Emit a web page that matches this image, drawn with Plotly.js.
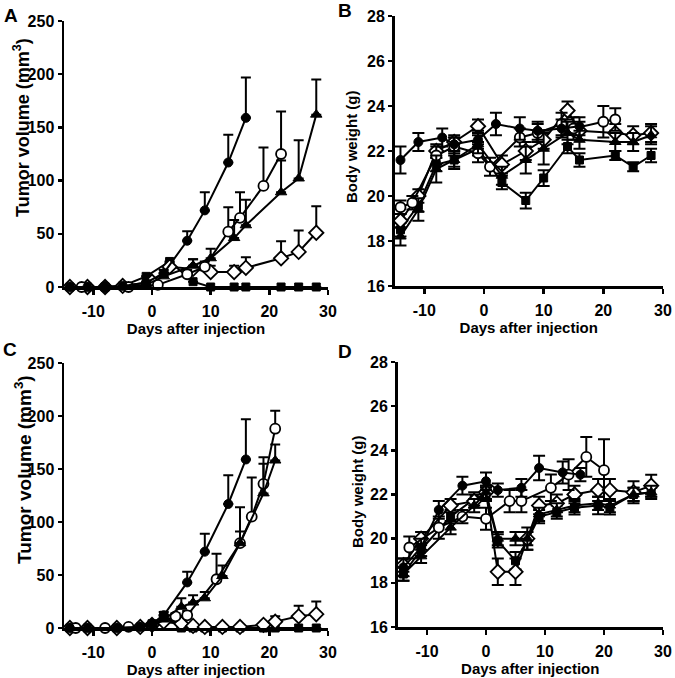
<!DOCTYPE html>
<html>
<head>
<meta charset="utf-8">
<script src="https://cdn.plot.ly/plotly-3.0.1.min.js"></script>
<style>html,body{margin:0;padding:0;background:#fff;}#chart{width:675px;height:678px;}</style>
</head>
<body>
<div id="chart"></div>
<script>
// ---------- Tick labels ----------
const dayTickVals = [-10, 0, 10, 20, 30];
const dayTickText = ["-10", "0", "10", "20", "30"];
const volTickVals = [0, 50, 100, 150, 200, 250];
const wtTickVals = [16, 18, 20, 22, 24, 26, 28];

// ---------- Panel A: tumor volume ----------
const fcA_x = [-14,-11,-8,-5,-1,2,6,9,13,16];
const fcA_y = [0,0,0,1,4,13,43.5,72,117,159];
const fcA_e = [0,0,0,0,1,3,9,17,26,38];
const ocA_x = [-12,-8,-4,1,6,9,13,15,19,22];
const ocA_y = [0,0,0,2,12,19,52,65,95,125];
const ocA_e = [0,0,0,1,4,5,23,24,36,40];
const ftA_x = [-14,-11,-8,-5,-1,2,7,10,14,16,22,25,28];
const ftA_y = [0,0,0,0,2,10,20,27,46,58,89,102,162];
const ftA_e = [0,0,0,0,1,3,6,9,17,24,30,36,33];
const odA_x = [-14,-11,-8,-5,0,3,7,10,14,16,22,25,28];
const odA_y = [0,0,0,1,5,19,17,14,14,18,27,33,51];
const odA_e = [0,0,0,0,1,4,9,6,6,10,16,20,25];
const fsA_x = [-14,-11,-8,-5,-1,3,7,10,14,16,22,25,28];
const fsA_y = [0,0,0,1,10,24,5,0,0,0,0,0,0];
const fsA_e = [0,0,0,0,0,0,0,0,0,0,0,0,0];

// ---------- Panel B: body weight ----------
const fcB_x = [-14,-11,-7,-5,-1,2,6,9,13,16];
const fcB_y = [21.6,22.4,22.6,22.3,22.5,23.2,23.0,22.9,23.0,23.1];
const fcB_e = [0.6,0.4,0.4,0.3,0.4,0.5,0.5,0.4,0.4,0.4];
const ocB_x = [-14,-12,-8,-5,-1,1,6,9,13,15,20,22];
const ocB_y = [19.5,19.7,21.8,22.2,21.9,21.3,22.6,22.8,23.2,23.0,23.3,23.4];
const ocB_e = [0.3,0.3,0.4,0.4,0.4,0.4,0.4,0.4,0.5,0.5,0.7,0.5];
const ftB_x = [-14,-11,-8,-5,-1,3,7,10,14,16,22,25,28];
const ftB_y = [18.2,19.4,21.2,21.6,22.3,20.9,21.6,22.1,22.8,22.5,22.4,22.4,22.7];
const ftB_e = [0.4,0.5,0.6,0.4,0.4,0.4,0.6,0.7,0.5,0.4,0.4,0.4,0.4];
const odB_x = [-14,-11,-8,-5,-1,3,7,10,14,16,22,25,28];
const odB_y = [18.9,20.0,22.0,22.4,23.1,21.4,22.0,22.5,23.8,22.9,22.8,22.7,22.8];
const odB_e = [0.3,0.3,0.3,0.3,0.3,0.4,0.4,0.4,0.4,0.4,0.4,0.4,0.4];
const fsB_x = [-14,-11,-8,-5,-1,3,7,10,14,16,22,25,28];
const fsB_y = [18.5,19.6,21.4,21.6,22.1,20.6,19.8,20.8,22.2,21.6,21.8,21.3,21.8];
const fsB_e = [0.3,0.3,0.3,0.3,0.3,0.3,0.35,0.35,0.3,0.3,0.2,0.2,0.3];

// ---------- Panel C: tumor volume ----------
const fcC_x = [-14,-11,-6,-2,0,2,6,9,13,16];
const fcC_y = [0,0,0,1,4,12,43,72,117,159];
const fcC_e = [0,0,0,0,1,3,10,17,27,38];
const ocC_x = [-13,-8,-4,0,4,6,11,15,17,19,21];
const ocC_y = [0,0,1,3,11,12,46,80,105,136,188];
const ocC_e = [0,0,0,1,3,4,24,34,37,25,17];
const ftC_x = [-14,-11,-6,-2,0,2,5,7,9,12,15,19,21];
const ftC_y = [0,0,0,1,3,8,20,24,28,49,80,127,158];
const ftC_e = [0,0,0,0,1,2,8,7,6,10,11,28,15];
const odC_x = [-14,-11,-6,-2,0,2,5,7,9,12,15,19,21,25,28];
const odC_y = [0,0,0,1,3,6,4,2,1,1,1,3,6,11,13];
const odC_e = [0,0,0,0,1,2,1,1,0,0,0,1,5,10,12];
const fsC_x = [-14,-11,-6,-2,0,2,5,7,9,12,15,19,21,25,28];
const fsC_y = [0,0,0,1,4,12,0,0,0,0,0,0,0,0,0];
const fsC_e = [0,0,0,0,0,0,0,0,0,0,0,0,0,0,0];

// ---------- Panel D: body weight ----------
const fcD_x = [-14,-11,-8,-4,0,2,6,9,13,16];
const fcD_y = [18.7,19.6,21.3,22.4,22.6,22.2,22.3,23.2,23.0,22.9];
const fcD_e = [0.4,0.4,0.4,0.4,0.4,0.3,0.4,0.55,0.5,0.3];
const ocD_x = [-13,-8,-4,0,4,6,11,14,17,20];
const ocD_y = [19.6,20.5,21.0,20.9,21.7,21.7,22.3,22.9,23.7,23.1];
const ocD_e = [0.5,0.5,0.3,0.5,0.5,0.5,0.6,0.7,0.9,1.4];
const ftD_x = [-14,-11,-6,-2,0,2,5,7,9,12,15,19,21,25,28];
const ftD_y = [18.4,19.2,20.5,21.5,22.1,20.0,20.0,20.0,21.1,21.3,21.5,21.6,21.5,22.0,22.1];
const ftD_e = [0.3,0.3,0.3,0.3,0.3,0.3,0.3,0.3,0.3,0.3,0.3,0.3,0.3,0.3,0.3];
const odD_x = [-14,-11,-6,-2,0,2,5,7,9,12,15,19,21,25,28];
const odD_y = [18.8,20.0,21.5,21.7,22.1,18.5,18.5,20.0,21.5,21.6,22.0,22.2,22.2,22.1,22.4];
const odD_e = [0.3,0.3,0.3,0.3,0.3,0.6,0.6,0.5,0.4,0.4,0.4,0.5,0.5,0.5,0.5];
const fsD_x = [-14,-11,-6,-2,0,2,5,7,9,12,15,19,21,25,28];
const fsD_y = [18.4,19.5,21.0,21.8,22.0,19.9,19.0,19.9,21.0,21.2,21.4,21.5,21.4,22.0,22.1];
const fsD_e = [0.3,0.3,0.3,0.3,0.3,0.3,0.4,0.4,0.3,0.3,0.3,0.4,0.3,0.3,0.2];

// ---------- Styling ----------
const FONT = "Liberation Sans, Arial, Helvetica, sans-serif";
const markers = {
  fs: {symbol: "square", size: 8, color: "#000", line: {color: "#000", width: 1}},
  ft: {symbol: "triangle-up", size: 10, color: "#000", line: {color: "#000", width: 1}},
  fc: {symbol: "circle", size: 9, color: "#000", line: {color: "#000", width: 1}},
  od: {symbol: "diamond", size: 11, color: "#fff", line: {color: "#000", width: 1.8}},
  oc: {symbol: "circle", size: 10, color: "#fff", line: {color: "#000", width: 1.8}}
};

function tr(x, y, e, kind, ax, upOnly) {
  const err = upOnly
    ? {type: "data", symmetric: false, array: e, arrayminus: e.map(() => 0), color: "#000", thickness: 2, width: 5}
    : {type: "data", symmetric: true, array: e, color: "#000", thickness: 2, width: 6};
  return {
    type: "scatter", mode: "lines+markers", x: x, y: y,
    xaxis: "x" + ax, yaxis: "y" + ax,
    line: {color: "#000", width: 2},
    marker: markers[kind],
    error_y: err, cliponaxis: false, hoverinfo: "x+y"
  };
}

// drawing order: squares, open diamonds, open circles, triangles, filled circles (last on top)
const data = [
  tr(fsA_x, fsA_y, fsA_e, "fs", "", true),
  tr(odA_x, odA_y, odA_e, "od", "", true),
  tr(ocA_x, ocA_y, ocA_e, "oc", "", true),
  tr(ftA_x, ftA_y, ftA_e, "ft", "", true),
  tr(fcA_x, fcA_y, fcA_e, "fc", "", true),

  tr(fsB_x, fsB_y, fsB_e, "fs", "2", false),
  tr(odB_x, odB_y, odB_e, "od", "2", false),
  tr(ocB_x, ocB_y, ocB_e, "oc", "2", false),
  tr(ftB_x, ftB_y, ftB_e, "ft", "2", false),
  tr(fcB_x, fcB_y, fcB_e, "fc", "2", false),

  tr(fsC_x, fsC_y, fsC_e, "fs", "3", true),
  tr(odC_x, odC_y, odC_e, "od", "3", true),
  tr(ocC_x, ocC_y, ocC_e, "oc", "3", true),
  tr(ftC_x, ftC_y, ftC_e, "ft", "3", true),
  tr(fcC_x, fcC_y, fcC_e, "fc", "3", true),

  tr(fsD_x, fsD_y, fsD_e, "fs", "4", false),
  tr(odD_x, odD_y, odD_e, "od", "4", false),
  tr(ocD_x, ocD_y, ocD_e, "oc", "4", false),
  tr(ftD_x, ftD_y, ftD_e, "ft", "4", false),
  tr(fcD_x, fcD_y, fcD_e, "fc", "4", false)
];

const W = 675, H = 678;
const tickFont = {family: FONT, size: 16, color: "#000", weight: "bold"};
const xTitle = "Days after injection";

function xax(d0, d1, anchor) {
  return {
    domain: [d0 / W, d1 / W], anchor: anchor, range: [-15, 30],
    tickmode: "array", tickvals: dayTickVals, ticktext: dayTickText,
    showline: true, linecolor: "#000", linewidth: 2.5,
    ticks: "outside", ticklen: 5, tickwidth: 2.5, tickcolor: "#000",
    ticklabelstandoff: 3,
    tickfont: tickFont, showgrid: false, zeroline: false, fixedrange: true,
    title: {text: xTitle, standoff: 1, font: {family: FONT, size: 15, color: "#000", weight: "bold"}}
  };
}
function yax(pBottom, pTop, range, vals, anchor) {
  return {
    domain: [1 - pBottom / H, 1 - pTop / H], anchor: anchor, range: range,
    tickmode: "array", tickvals: vals,
    showline: true, linecolor: "#000", linewidth: 2.5,
    ticks: "outside", ticklen: 4, tickwidth: 2.5, tickcolor: "#000",
    tickfont: tickFont, showgrid: false, zeroline: false, fixedrange: true
  };
}

function ann(text, px, py, size, angle) {
  return {
    text: text, xref: "paper", yref: "paper", x: px / W, y: 1 - py / H,
    xanchor: "center", yanchor: "middle", showarrow: false, textangle: angle || 0,
    font: {family: FONT, size: size, color: "#000", weight: "bold"}
  };
}

const layout = {
  width: W, height: H,
  margin: {l: 0, r: 0, t: 0, b: 0},
  paper_bgcolor: "#fff", plot_bgcolor: "#fff",
  showlegend: false,
  xaxis: xax(64, 328, "y"),
  yaxis: yax(287, 21, [0, 250], volTickVals, "x"),
  xaxis2: xax(394.5, 663, "y2"),
  yaxis2: yax(286, 16, [16, 28], wtTickVals, "x2"),
  xaxis3: xax(64, 328, "y3"),
  yaxis3: yax(628, 363, [0, 250], volTickVals, "x3"),
  xaxis4: xax(397.5, 663, "y4"),
  yaxis4: yax(627, 362, [16, 28], wtTickVals, "x4"),
  annotations: [
    ann("A", 11, 15, 19), ann("B", 345, 11, 19), ann("C", 10, 349, 19), ann("D", 345, 351, 19),
    ann("Tumor volume (mm<sup>3</sup>)", 21, 128, 18, -90),
    ann("Body weight (g)", 351, 147, 15, -90),
    ann("Tumor volume (mm<sup>3</sup>)", 23, 470, 19, -90),
    ann("Body weight (g)", 357, 492, 15, -90)
  ]
};

Plotly.newPlot("chart", data, layout, {displayModeBar: false, staticPlot: true});
</script>
</body>
</html>
